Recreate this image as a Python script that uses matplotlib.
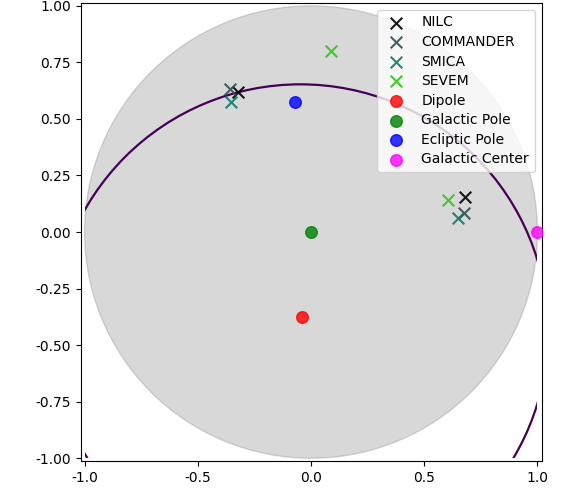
import matplotlib

matplotlib.use("Agg")
import matplotlib.pyplot as plt
from matplotlib.patches import Circle, Rectangle

# projected sky directions (x, y) on the unit disk
nilc_x = [-0.322, 0.680]
nilc_y = [0.620, 0.157]
commander_x = [-0.357, 0.675]
commander_y = [0.633, 0.086]
smica_x = [-0.353, 0.650]
smica_y = [0.576, 0.064]
sevem_x = [0.088, 0.605]
sevem_y = [0.800, 0.143]

dipole = (-0.040, -0.377)
galactic_pole = (0.0, 0.0)
ecliptic_pole = (-0.070, 0.576)
galactic_center = (1.0, 0.0)

# projected great circle: centre and radius in the plane, shown only on the [-1, 1] grid
arc_center = (-0.047, -0.441)
arc_radius = 1.094

LINE = "#440154"

fig = plt.figure(figsize=(5.62, 4.99), dpi=100)
ax = fig.add_axes([0.1436, 0.0762, 0.82, 0.918])

ax.add_patch(Circle((0, 0), 1, color="gray", alpha=0.3, zorder=1))
arc = Circle(arc_center, arc_radius, fill=False, edgecolor=LINE, lw=1.6, zorder=2)
ax.add_patch(arc)
arc.set_clip_path(Rectangle((-1, -1), 2, 2, transform=ax.transData))

xkw = dict(s=70, marker="x", alpha=0.9, zorder=3)
okw = dict(s=70, alpha=0.8, zorder=3)
ax.scatter(nilc_x, nilc_y, color="black", label="NILC", **xkw)
ax.scatter(commander_x, commander_y, color="darkslategray", label="COMMANDER", **xkw)
ax.scatter(smica_x, smica_y, color="#0e7a66", label="SMICA", **xkw)
ax.scatter(sevem_x, sevem_y, color="#33c414", label="SEVEM", **xkw)
ax.scatter(*dipole, color="red", label="Dipole", **okw)
ax.scatter(*galactic_pole, color="green", label="Galactic Pole", **okw)
ax.scatter(*ecliptic_pole, color="blue", label="Ecliptic Pole", **okw)
ax.scatter(*galactic_center, color="magenta", label="Galactic Center", **okw)

ax.set_xlim(-1.017, 1.018)
ax.set_ylim(-1.012, 1.013)
ax.set_xticks([-1.0, -0.5, 0.0, 0.5, 1.0])
ax.set_yticks([-1.0, -0.75, -0.5, -0.25, 0.0, 0.25, 0.5, 0.75, 1.0])
ax.yaxis.set_major_formatter(matplotlib.ticker.FormatStrFormatter("%.2f"))
ax.xaxis.set_major_formatter(matplotlib.ticker.FormatStrFormatter("%.1f"))
ax.legend(loc="upper right", labelspacing=0.4)

fig.savefig("out.png", dpi=100)
